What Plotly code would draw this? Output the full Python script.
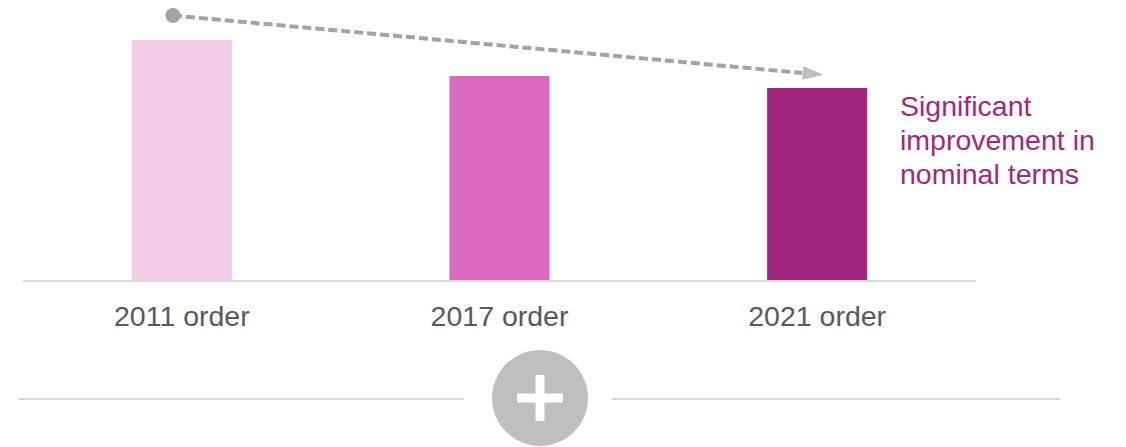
import plotly.graph_objects as go

# data
categories = ["2011 order", "2017 order", "2021 order"]
values = [100, 85, 80]
bar_colors = ["#F2CBE8", "#DA69C0", "#A0267F"]
note_lines = ["Significant", "improvement in", "nominal terms"]

# page offset of the plot div (browser body margin)
OFF = 8
W, H = 1126 - OFF, 447 - OFF
L, R, T, B = 15, 150, 0, 167
plot_w = W - L - R
plot_h = H - T - B
y_top = plot_h / 2.4  # 2.4 px per unit


def px2paper(x, y):
    # reference page pixels -> paper coords of the plot area
    fx, fy = x - OFF, y - OFF
    return (fx - L) / plot_w, (H - B - fy) / plot_h


xpos = list(range(len(categories)))

fig = go.Figure()
fig.add_trace(go.Bar(
    x=xpos, y=values,
    marker=dict(color=bar_colors, line=dict(width=0)),
    width=0.315,
    hovertext=categories, hoverinfo="text+y",
))

# dashed trend arrow from above the first bar to above the last bar
trend_x = [xpos[0] - 0.028, xpos[-1] + 0.025]
trend_y = [values[0] + 10.2, values[-1] + 5.4]
fig.add_trace(go.Scatter(
    x=trend_x, y=trend_y,
    mode="lines+markers",
    line=dict(color="#A3A3A3", width=4, dash="9px,4px"),
    marker=dict(symbol="arrow", size=[0, 24],
                angleref="previous", color="#A3A3A3"),
    cliponaxis=False, hoverinfo="skip",
))
fig.add_trace(go.Scatter(
    x=trend_x[:1], y=trend_y[:1], mode="markers",
    marker=dict(symbol="circle", size=15, color="#A3A3A3"),
    cliponaxis=False, hoverinfo="skip",
))

# note, one annotation per line for exact line spacing
for i, line in enumerate(note_lines):
    nx, ny = px2paper(898, 106 + 34 * i)
    fig.add_annotation(
        x=nx, y=ny, xref="paper", yref="paper",
        xanchor="left", yanchor="middle", align="left",
        text=line, showarrow=False,
        font=dict(size=28.5, color="#A2287F", family="Liberation Sans, Arial"),
    )

# bottom divider with plus sign
shapes = []
for xa, xb in [(18, 464), (612, 1060)]:
    p0 = px2paper(xa, 399)
    p1 = px2paper(xb, 399)
    shapes.append(dict(type="line", xref="paper", yref="paper",
                       x0=p0[0], y0=p0[1], x1=p1[0], y1=p1[1],
                       line=dict(color="#C8C8C8", width=1.5)))
c0 = px2paper(492, 446)
c1 = px2paper(588, 350)
shapes.append(dict(type="circle", xref="paper", yref="paper",
                   x0=c0[0], y0=c0[1], x1=c1[0], y1=c1[1],
                   fillcolor="#BFBFBF", line=dict(width=0)))
for (xa, ya, xb, yb) in [(517, 398, 563, 398), (540, 375, 540, 421)]:
    p0 = px2paper(xa, ya)
    p1 = px2paper(xb, yb)
    shapes.append(dict(type="line", xref="paper", yref="paper",
                       x0=p0[0], y0=p0[1], x1=p1[0], y1=p1[1],
                       line=dict(color="white", width=9)))

fig.update_layout(
    width=W, height=H,
    margin=dict(l=L, r=R, t=T, b=B),
    plot_bgcolor="white", paper_bgcolor="white",
    showlegend=False,
    shapes=shapes,
    font=dict(family="Liberation Sans, Arial", color="#595959"),
)
fig.update_xaxes(
    range=[-0.5, 2.5], showgrid=False, zeroline=False,
    showline=True, linecolor="#D9D9D9", linewidth=2,
    tickmode="array", tickvals=xpos, ticktext=categories,
    ticks="", ticklabelstandoff=10,
    tickfont=dict(size=28.5, color="#595959"),
)
fig.update_yaxes(range=[0, y_top], visible=False)

fig.write_html("out.html")
